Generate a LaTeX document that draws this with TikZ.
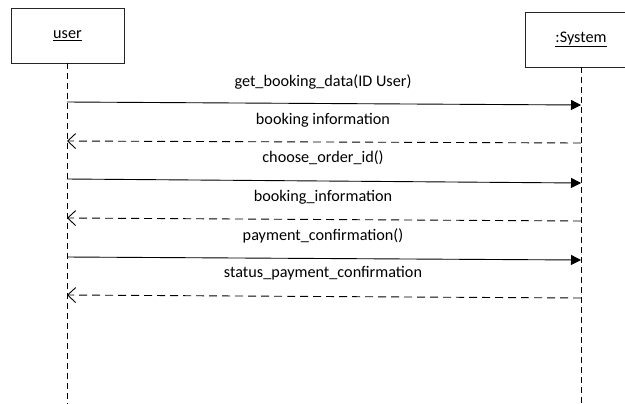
\documentclass[tikz,border=0pt]{standalone}
\usepackage{fontspec}
\setmainfont{Carlito}
\usetikzlibrary{arrows.meta}
\begin{document}
\begin{tikzpicture}[x=1bp,y=-1bp,
  every node/.style={font=\fontsize{16.2bp}{19bp}\selectfont, text=black},
  actor/.style={draw=black!85, line width=0.9bp, fill=white, inner sep=0pt},
  lifeline/.style={draw=black, line width=0.9bp, dash pattern=on 6bp off 4bp},
  callmsg/.style={draw=black, line width=0.9bp, -{Triangle[length=10bp,width=10bp]}},
  replymsg/.style={draw=black, line width=0.9bp, dash pattern=on 8bp off 5bp,
    -{Straight Barb[length=8bp,width=15bp,line width=0.9bp]}},
  msglabel/.style={inner sep=0pt, anchor=center}]
\useasboundingbox (0,0) rectangle (625,403);
\clip (0,0) rectangle (625,403);

% participants
\node[actor, minimum width=113bp, minimum height=55bp] (user) at (67.5,35.5) {\underline{user}};
\node[actor, minimum width=112bp, minimum height=55bp] (sys) at (581,39.5) {\underline{:System}};

% lifelines
\coordinate (userTop) at (67,63);
\coordinate (userEnd) at (67,404);
\coordinate (sysTop) at (581,67);
\coordinate (sysEnd) at (581,404);
\draw[lifeline] (userTop) -- (userEnd);
\draw[lifeline] (sysTop) -- (sysEnd);

% message end points on the lifelines
\coordinate (u1) at (67,102);  \coordinate (s1) at (581,105);
\coordinate (s2) at (581,143); \coordinate (u2) at (67,141);
\coordinate (u3) at (67,179);  \coordinate (s3) at (581,183);
\coordinate (s4) at (581,221); \coordinate (u4) at (67,218);
\coordinate (u5) at (67,257);  \coordinate (s5) at (581,260);
\coordinate (s6) at (581,298); \coordinate (u6) at (67,295);

% messages
\draw[callmsg] (u1) -- (s1);
\draw[replymsg] (s2) -- (u2);
\draw[callmsg] (u3) -- (s3);
\draw[replymsg] (s4) -- (u4);
\draw[callmsg] (u5) -- (s5);
\draw[replymsg] (s6) -- (u6);

% message labels
\node[msglabel] (m1) at (323,82) {get\_booking\_data(ID User)};
\node[msglabel] (m2) at (323,120) {booking information};
\node[msglabel] (m3) at (323,158) {choose\_order\_id()};
\node[msglabel] (m4) at (323,197) {booking\_information};
\node[msglabel] (m5) at (323,236) {payment\_confirmation()};
\node[msglabel] (m6) at (323,273) {status\_payment\_confirmation};
\end{tikzpicture}
\end{document}
